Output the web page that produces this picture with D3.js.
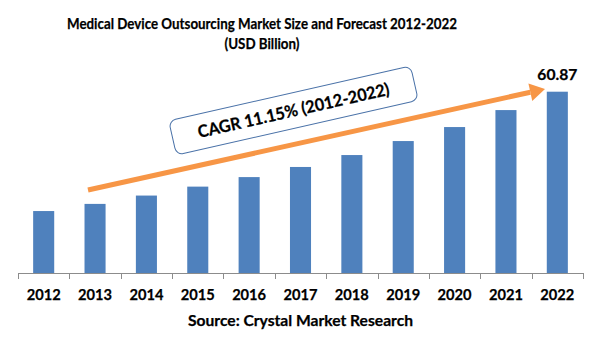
<!DOCTYPE html>
<html>
<head>
<meta charset="utf-8">
<script src="https://cdn.jsdelivr.net/npm/d3@7/dist/d3.min.js"></script>
<style>
  html, body { margin: 0; padding: 0; background: #fff; }
  svg { display: block; }
  text { font-family: Lato, "Open Sans", sans-serif; font-weight: bold; fill: #000; stroke: #000; stroke-width: 0.25px; }
</style>
</head>
<body>
<svg id="chart" width="601" height="361"></svg>
<script>
const years = ["2012","2013","2014","2015","2016","2017","2018","2019","2020","2021","2022"];
const values = [20.8, 23.2, 26.0, 29.0, 32.2, 35.6, 39.6, 44.3, 49.0, 54.7, 60.87];
const titleLines = ["Medical Device Outsourcing Market Size and Forecast 2012-2022", "(USD Billion)"];
const cagrText = "CAGR 11.15% (2012-2022)";
const sourceText = "Source: Crystal Market Research";
const lastLabel = "60.87";

const svg = d3.select("#chart");
const left = 18, right = 583, base = 273, topY = 91.7;

const x = d3.scaleBand().domain(years).range([left, right]).paddingInner(0.59).paddingOuter(0.295);
const y = d3.scaleLinear().domain([0, 60.87]).range([base, topY]);

// Title
const titleLens = [390, 75];
svg.selectAll("text.title").data(titleLines).enter().append("text")
  .attr("class", "title")
  .attr("x", 262).attr("y", (d, i) => 29 + i * 20)
  .attr("text-anchor", "middle")
  .attr("textLength", (d, i) => titleLens[i])
  .attr("lengthAdjust", "spacingAndGlyphs")
  .style("font-size", "15.5px")
  .text(d => d);

// Bars
svg.selectAll("rect.bar").data(values).enter().append("rect")
  .attr("class", "bar")
  .attr("x", (d, i) => x(years[i]))
  .attr("width", x.bandwidth())
  .attr("y", d => y(d))
  .attr("height", d => base - y(d))
  .attr("fill", "#4f81bd");

// Axis
svg.append("line").attr("x1", left).attr("x2", right).attr("y1", base + 0.5).attr("y2", base + 0.5)
  .attr("stroke", "#8c8c8c").attr("stroke-width", 1);
const step = x.step();
svg.selectAll("line.tick").data(d3.range(years.length + 1)).enter().append("line")
  .attr("class", "tick")
  .attr("x1", i => Math.round(left + i * step) + 0.5)
  .attr("x2", i => Math.round(left + i * step) + 0.5)
  .attr("y1", base).attr("y2", base + 6)
  .attr("stroke", "#8c8c8c");

svg.selectAll("text.year").data(years).enter().append("text")
  .attr("class", "year")
  .attr("x", d => x(d) + x.bandwidth() / 2)
  .attr("y", 300)
  .attr("text-anchor", "middle")
  .attr("textLength", 34)
  .attr("lengthAdjust", "spacingAndGlyphs")
  .style("font-size", "15.5px")
  .text(d => d);

// Source
svg.append("text").attr("x", 300.5).attr("y", 325.5).attr("text-anchor", "middle")
  .attr("textLength", 225).attr("lengthAdjust", "spacingAndGlyphs")
  .style("font-size", "15.5px").text(sourceText);

// Last value label
svg.append("text")
  .attr("x", x(years[10]) + x.bandwidth() / 2)
  .attr("y", y(values[10]) - 12)
  .attr("text-anchor", "middle")
  .attr("textLength", 40).attr("lengthAdjust", "spacingAndGlyphs")
  .style("font-size", "15px")
  .text(lastLabel);

// Arrow annotation
const a0 = [88, 190], a1 = [545, 89];
const ang = Math.atan2(a1[1] - a0[1], a1[0] - a0[0]);
const headLen = 15, headW = 9;
const bx = a1[0] - headLen * Math.cos(ang), by = a1[1] - headLen * Math.sin(ang);
svg.append("line").attr("x1", a0[0]).attr("y1", a0[1]).attr("x2", bx).attr("y2", by)
  .attr("stroke", "#f79646").attr("stroke-width", 5);
const nx = -Math.sin(ang), ny = Math.cos(ang);
svg.append("path")
  .attr("d", `M${a1[0]},${a1[1]} L${bx + nx * headW},${by + ny * headW} L${bx - nx * headW},${by - ny * headW} Z`)
  .attr("fill", "#f79646");

// CAGR box
const box = svg.append("g").attr("transform", `translate(293.5,110.5) rotate(-12.8)`);
box.append("rect").attr("x", -124).attr("y", -17.5).attr("width", 248).attr("height", 35)
  .attr("rx", 7).attr("ry", 7)
  .attr("fill", "#fff").attr("stroke", "#4a72a8").attr("stroke-width", 1);
box.append("text").attr("x", 0).attr("y", 6).attr("text-anchor", "middle")
  .attr("textLength", 196).attr("lengthAdjust", "spacingAndGlyphs")
  .style("font-size", "17px").text(cagrText);
</script>
</body>
</html>
